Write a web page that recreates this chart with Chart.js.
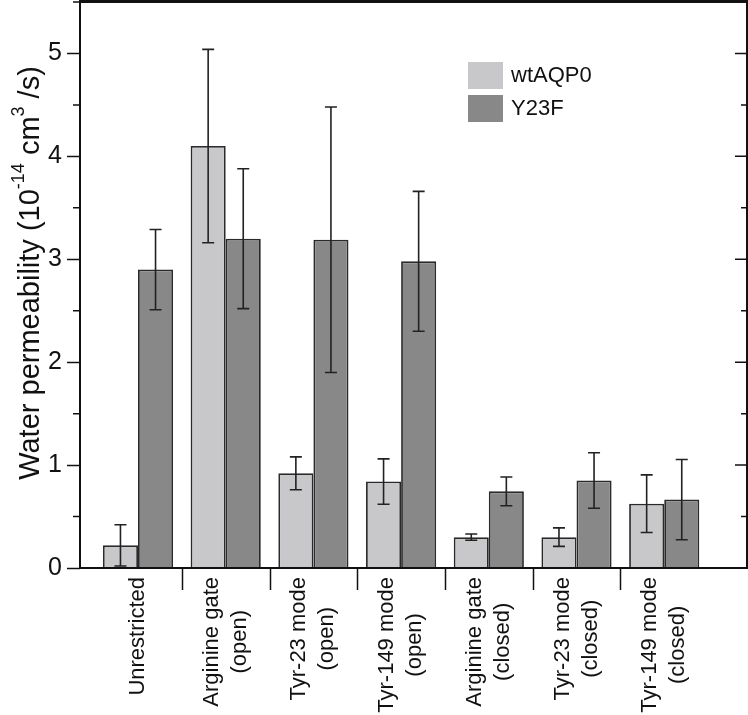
<!DOCTYPE html>
<html lang="en">
<head>
<meta charset="UTF-8">
<title>Water permeability</title>
<script src="https://cdn.jsdelivr.net/npm/chart.js"></script>
<style>
  html, body { margin: 0; padding: 0; background: #fff; }
  #wrap { width: 748px; height: 715px; }
</style>
</head>
<body>
<div id="wrap"><canvas id="canvas"></canvas></div>
<script>
// data
const categories = [
  ['Unrestricted'],
  ['Arginine gate', '(open)'],
  ['Tyr-23 mode', '(open)'],
  ['Tyr-149 mode', '(open)'],
  ['Arginine gate', '(closed)'],
  ['Tyr-23 mode', '(closed)'],
  ['Tyr-149 mode', '(closed)']
];
const seriesNames = ['wtAQP0', 'Y23F'];
const wtValues = [0.22, 4.10, 0.92, 0.84, 0.30, 0.30, 0.625];
const wtErrors = [0.20, 0.94, 0.16, 0.22, 0.03, 0.09, 0.28];
const y23fValues = [2.90, 3.20, 3.19, 2.98, 0.745, 0.85, 0.665];
const y23fErrors = [0.39, 0.68, 1.29, 0.68, 0.14, 0.27, 0.39];
const yTicks = [0, 1, 2, 3, 4, 5];

const FONT = "'Liberation Sans', Arial, sans-serif";
const INK = '#111111';
const colors = ['#c8c8ca', '#888888'];

const toPoints = vals => vals.map((v, i) => ({ x: i + 1, y: v }));

// error bars, frame, minor ticks, category labels, axis title, legend
const extras = {
  id: 'extras',
  afterDatasetsDraw(chart) {
    const ctx = chart.ctx;
    const ys = chart.scales.y;
    [wtErrors, y23fErrors].forEach((errs, d) => {
      const meta = chart.getDatasetMeta(d);
      meta.data.forEach((bar, i) => {
        const v = chart.data.datasets[d].data[i].y;
        const top = ys.getPixelForValue(v + errs[i]);
        const bot = ys.getPixelForValue(Math.max(0, v - errs[i]));
        ctx.save();
        ctx.strokeStyle = '#222';
        ctx.lineWidth = 1.6;
        ctx.beginPath();
        ctx.moveTo(bar.x, top); ctx.lineTo(bar.x, bot);
        ctx.moveTo(bar.x - 6, top); ctx.lineTo(bar.x + 6, top);
        ctx.moveTo(bar.x - 6, bot); ctx.lineTo(bar.x + 6, bot);
        ctx.stroke();
        ctx.restore();
      });
    });
  },
  afterDraw(chart) {
    const ctx = chart.ctx;
    const a = chart.chartArea;
    const xs = chart.scales.x, ys = chart.scales.y;
    ctx.save();
    // frame (filled strips so the top edge stays crisp)
    ctx.fillStyle = INK;
    ctx.fillRect(a.left - 1, 0, a.right - a.left + 2, 3);
    ctx.fillRect(a.left - 1, a.bottom - 1, a.right - a.left + 2, 2);
    ctx.fillRect(a.left - 1, 0, 2, a.bottom + 1);
    ctx.fillRect(a.right - 1, 0, 2, a.bottom + 1);
    // minor ticks left (outside) and all ticks right (inside)
    ctx.strokeStyle = INK;
    ctx.beginPath();
    for (let v = 0; v <= 5.5; v += 0.5) {
      const py = ys.getPixelForValue(v);
      const major = Number.isInteger(v);
      if (!major) { ctx.moveTo(a.left - 7, py); ctx.lineTo(a.left, py); }
      if (v > 0 && v < 5.5) { ctx.moveTo(a.right, py); ctx.lineTo(a.right - (major ? 12 : 6), py); }
    }
    // category separators under the x axis
    for (let i = 1; i < categories.length; i++) {
      const px = Math.round(xs.getPixelForValue(i + 0.5)) + 0.5;
      ctx.moveTo(px, a.bottom); ctx.lineTo(px, a.bottom + 22);
    }
    ctx.lineWidth = 1.5;
    ctx.stroke();

    // category labels, rotated, lines centred
    ctx.fillStyle = INK;
    ctx.font = '22px ' + FONT;
    ctx.textAlign = 'center';
    ctx.textBaseline = 'middle';
    const lineH = 28;
    categories.forEach((lines, i) => {
      const px = xs.getPixelForValue(i + 1);
      const w = Math.max(...lines.map(l => ctx.measureText(l).width));
      ctx.save();
      ctx.translate(px, a.bottom + 9);
      ctx.rotate(-Math.PI / 2);
      lines.forEach((l, j) => {
        ctx.fillText(l, -w / 2, (j - (lines.length - 1) / 2) * lineH);
      });
      ctx.restore();
    });

    // y axis title with superscripts
    const size = 29, sup = 18;
    const parts = [
      ['Water permeability (10', false], ['-14', true], [' cm', false], ['3', true], [' /s)', false]
    ];
    const widths = parts.map(([t, s]) => { ctx.font = (s ? sup : size) + 'px ' + FONT; return ctx.measureText(t).width; });
    const total = widths.reduce((p, c) => p + c, 0);
    ctx.save();
    ctx.translate(39, 273);
    ctx.rotate(-Math.PI / 2);
    ctx.textAlign = 'left';
    ctx.textBaseline = 'alphabetic';
    let cx = -total / 2;
    parts.forEach(([t, s], k) => {
      ctx.font = (s ? sup : size) + 'px ' + FONT;
      ctx.fillText(t, cx, s ? -15 : 0);
      cx += widths[k];
    });
    ctx.restore();

    // legend
    ctx.font = '22px ' + FONT;
    ctx.textAlign = 'left';
    ctx.textBaseline = 'middle';
    chart.data.datasets.forEach((ds, d) => {
      const top = 62 + d * 33;
      ctx.fillStyle = ds.backgroundColor;
      ctx.fillRect(468, top, 35, 27);
      ctx.fillStyle = INK;
      ctx.fillText(ds.label, 511, top + 14);
    });
    ctx.restore();
  }
};

const ctx = document.getElementById('canvas').getContext('2d');
const chart = new Chart(ctx, {
  type: 'bar',
  data: {
    datasets: [{
      label: seriesNames[0],
      data: toPoints(wtValues),
      backgroundColor: colors[0],
      borderColor: '#2a2a2a',
      borderWidth: 1.8
    }, {
      label: seriesNames[1],
      data: toPoints(y23fValues),
      backgroundColor: colors[1],
      borderColor: '#2a2a2a',
      borderWidth: 1.8
    }]
  },
  options: {
    responsive: true,
    maintainAspectRatio: false,
    animation: false,
    events: [],
    layout: { padding: { top: 2, right: 1, left: 0, bottom: 0 } },
    datasets: { bar: { categoryPercentage: 0.8, barPercentage: 1.0 } },
    plugins: { legend: { display: false }, tooltip: { enabled: false } },
    scales: {
      x: {
        type: 'linear',
        min: 0.3387,
        max: 7.944,
        offset: false,
        afterBuildTicks: s => { s.ticks = categories.map((c, i) => ({ value: i + 1 })); },
        ticks: { display: false },
        grid: { display: false },
        border: { display: false },
        afterFit: s => { s.height = 147; s.paddingLeft = 0; s.paddingRight = 0; }
      },
      y: {
        min: 0,
        max: 5.5,
        afterBuildTicks: s => {
          const t = [];
          for (let v = 0; v <= 5.5; v += 0.5) t.push({ value: v });
          s.ticks = t;
        },
        ticks: {
          autoSkip: false,
          padding: 5,
          color: INK,
          font: { size: 25, family: FONT },
          callback: v => yTicks.includes(v) ? String(v) : ''
        },
        grid: {
          drawOnChartArea: false,
          drawTicks: true,
          tickLength: 13,
          tickWidth: 1.5,
          tickColor: c => yTicks.includes(c.tick.value) ? INK : 'rgba(0,0,0,0)'
        },
        border: { display: false },
        afterFit: s => { s.width = 80; s.paddingTop = 0; s.paddingBottom = 0; }
      }
    }
  },
  plugins: [extras]
});
</script>
</body>
</html>
